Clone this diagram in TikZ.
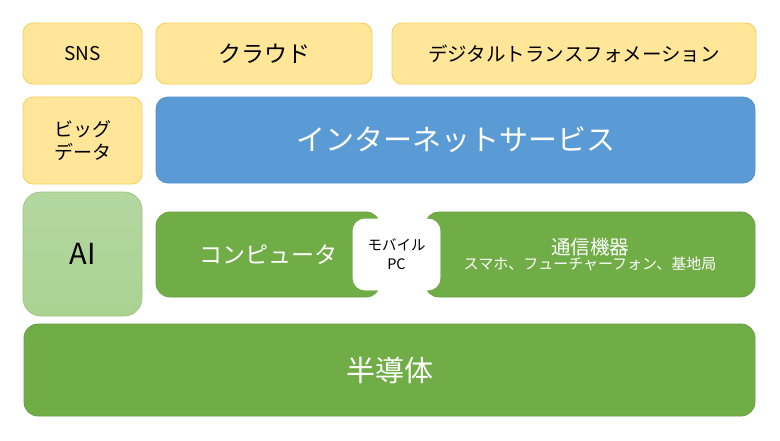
\documentclass[tikz,border=0pt]{standalone}
\usepackage{fontspec}
\setmainfont{Noto Sans CJK JP}
\usepackage{xcolor}
\usetikzlibrary{positioning}

\definecolor{appyellow}{HTML}{FFE699}
\definecolor{appyellowline}{HTML}{F7D05A}
\definecolor{netblue}{HTML}{5B9BD5}
\definecolor{netblueline}{HTML}{5090CC}
\definecolor{devgreen}{HTML}{70AD47}
\definecolor{devgreenline}{HTML}{68A142}
\definecolor{aigreen}{HTML}{ABD291}
\definecolor{aigreentop}{HTML}{B4D7A1}
\definecolor{aigreenline}{HTML}{9DC683}

\begin{document}
\begin{tikzpicture}[x=1pt, y=-1pt,
    layer/.style={rounded corners=#1, inner sep=0pt, outer sep=0pt, align=center, line width=0.8pt},
    apps/.style={layer=10pt, fill=appyellow, draw=appyellowline, text=black},
    service/.style={layer=12pt, fill=netblue, draw=netblueline, text=white},
    device/.style={layer=14pt, fill=devgreen, draw=devgreenline, text=white}]
    \useasboundingbox[fill=white] (0,0) rectangle (780,440);

    % Top row
    \node[apps, minimum width=119pt, minimum height=61pt, font=\fontsize{19}{23}\selectfont] (sns) at (82.5,53.5) {SNS};
    \node[apps, minimum width=216pt, minimum height=61pt, font=\fontsize{23}{27}\selectfont] (cloud) at (264,53.5) {クラウド};
    \node[apps, minimum width=364pt, minimum height=61pt, font=\fontsize{19.5}{23}\selectfont] (dx) at (574,53.5) {デジタルトランスフォメーション};

    % Second row
    \node[apps, minimum width=119pt, minimum height=87pt, font=\fontsize{19}{23}\selectfont] (bigdata) at (82.5,140.5) {ビッグ\\データ};
    \node[service, minimum width=599pt, minimum height=86pt, font=\fontsize{29}{34}\selectfont] (internet) at (455.5,140) {インターネットサービス};

    % Third row
    \node[layer=18pt, top color=aigreentop, bottom color=aigreen, draw=aigreenline, minimum width=119pt, minimum height=124pt, font=\fontsize{29}{34}\selectfont] (ai) at (82.5,254) {AI};
    \node[device, minimum width=224pt, minimum height=85pt, font=\fontsize{23}{27}\selectfont] (computer) at (268,254.5) {コンピュータ};
    \node[device, minimum width=330pt, minimum height=85pt] (comm) at (590,254.5) {\fontsize{19.5}{22}\selectfont 通信機器\\\fontsize{15}{20}\selectfont スマホ、フューチャーフォン、基地局};
    \node[layer=12pt, fill=white, draw=white, text=black, minimum width=87pt, minimum height=71pt, font=\fontsize{14.5}{19}\selectfont] (mobile) at (396.5,254.5) {モバイル\\PC};

    % Bottom row
    \node[device, minimum width=731pt, minimum height=92pt, font=\fontsize{29}{34}\selectfont] (semi) at (389.5,370) {半導体};
\end{tikzpicture}
\end{document}
